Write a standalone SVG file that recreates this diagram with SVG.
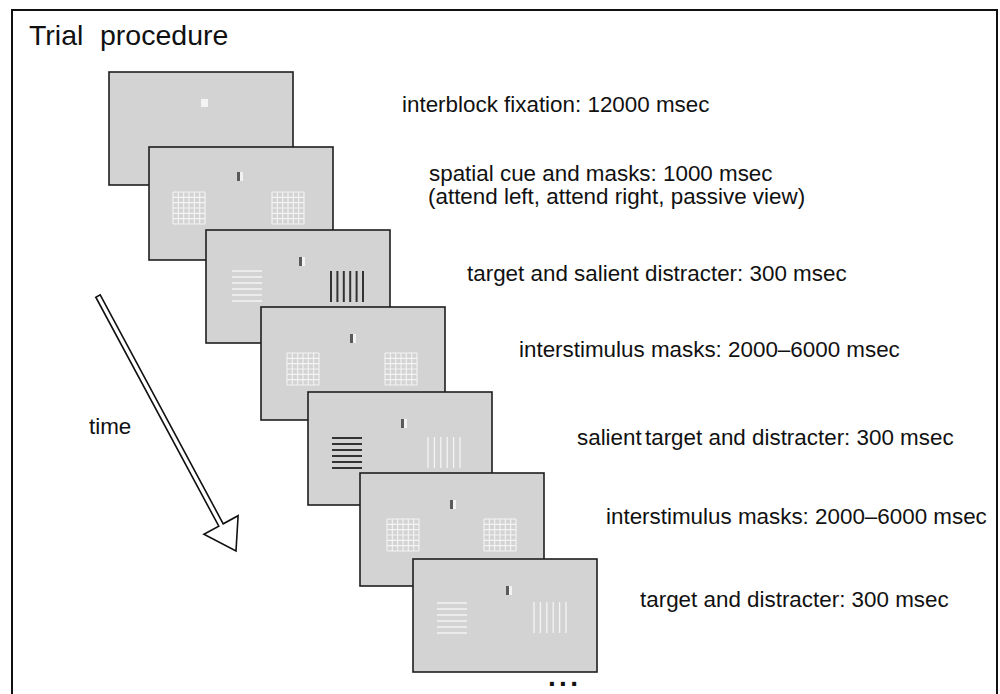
<svg xmlns="http://www.w3.org/2000/svg" xmlns:xlink="http://www.w3.org/1999/xlink" width="1000" height="694" viewBox="0 0 1000 694">
<style>
.frame{fill:#d3d3d3;stroke:#1e1e1e;stroke-width:1.6}
.lbl{font-family:"Liberation Sans",Arial,Helvetica,sans-serif;font-size:22.4px;fill:#111}
.title{font-family:"Liberation Sans",Arial,Helvetica,sans-serif;font-size:28.5px;fill:#111}
.wline{stroke:#f4f4f4;stroke-width:1.3;fill:none}
.dline{stroke:#333;stroke-width:2;fill:none}
.grid{stroke:#f4f4f4;stroke-width:1.1;fill:none}
.cueD{fill:#5a5a5a}
.cueW{fill:#f2f2f2}
</style>
<defs>
<path id="gridp" d="M0,0v32M5.33,0v32M10.67,0v32M16,0v32M21.33,0v32M26.67,0v32M32,0v32M0,0h32M0,5.33h32M0,10.67h32M0,16h32M0,21.33h32M0,26.67h32M0,32h32"/>
<path id="hl" d="M0,0h30M0,6h30M0,12h30M0,18h30M0,24h30M0,30h30"/>
<path id="vl" d="M0,0v31M6.4,0v31M12.8,0v31M19.2,0v31M25.6,0v31M32,0v31"/>
</defs>
<rect x="0" y="0" width="1000" height="694" fill="#fff"/>
<path d="M12,694V10H997V694" fill="none" stroke="#111" stroke-width="2"/>
<text class="title" x="29" y="45">Trial</text>
<text class="title" x="100" y="45">procedure</text>

<g id="frame1">
<rect class="frame" x="109" y="72" width="184" height="113"/>
<rect x="201" y="99" width="7" height="8" fill="#f4f4f4"/>
<text class="lbl" x="402" y="112">interblock fixation: 12000 msec</text>
</g>

<g id="frame2">
<rect class="frame" x="149" y="147" width="184" height="113"/>
<rect class="cueD" x="237" y="172" width="3" height="9"/>
<rect class="cueW" x="240" y="172" width="3" height="9"/>
<use href="#gridp" xlink:href="#gridp" class="grid" x="173" y="192"/>
<use href="#gridp" xlink:href="#gridp" class="grid" x="272" y="192"/>
<text class="lbl" x="429" y="181">spatial cue and masks: 1000 msec</text>
<text class="lbl" x="428" y="204">(attend left, attend right, passive view)</text>
</g>

<g id="frame3">
<rect class="frame" x="206" y="230" width="184" height="113"/>
<rect class="cueD" x="299" y="257" width="3" height="9"/>
<rect class="cueW" x="302" y="257" width="3" height="9"/>
<use href="#hl" xlink:href="#hl" class="wline" x="232" y="271"/>
<use href="#vl" xlink:href="#vl" class="dline" x="331" y="271"/>
<text class="lbl" x="467" y="281">target and salient distracter: 300 msec</text>
</g>

<g id="frame4">
<rect class="frame" x="261" y="307" width="184" height="113"/>
<rect class="cueD" x="350" y="334" width="3" height="9"/>
<rect class="cueW" x="353" y="334" width="3" height="9"/>
<use href="#gridp" xlink:href="#gridp" class="grid" x="287" y="353"/>
<use href="#gridp" xlink:href="#gridp" class="grid" x="385" y="353"/>
<text class="lbl" x="519" y="357">interstimulus masks: 2000–6000 msec</text>
</g>

<g id="frame5">
<rect class="frame" x="308" y="392" width="184" height="113"/>
<rect class="cueD" x="401" y="419" width="3" height="9"/>
<rect class="cueW" x="404" y="419" width="3" height="9"/>
<use href="#hl" xlink:href="#hl" class="dline" x="332" y="438" style="stroke-width:1.8"/>
<use href="#vl" xlink:href="#vl" class="wline" x="428" y="437"/>
<text class="lbl" x="577" y="445">salient<tspan dx="-3"> target and distracter: 300 msec</tspan></text>
</g>

<g id="frame6">
<rect class="frame" x="360" y="473" width="184" height="113"/>
<rect class="cueD" x="450" y="500" width="3" height="9"/>
<rect class="cueW" x="453" y="500" width="3" height="9"/>
<use href="#gridp" xlink:href="#gridp" class="grid" x="387" y="519"/>
<use href="#gridp" xlink:href="#gridp" class="grid" x="484" y="519"/>
<text class="lbl" x="606" y="524">interstimulus masks: 2000–6000 msec</text>
</g>

<g id="frame7">
<rect class="frame" x="413" y="559" width="184" height="113"/>
<rect class="cueD" x="506" y="586" width="3" height="9"/>
<rect class="cueW" x="509" y="586" width="3" height="9"/>
<use href="#hl" xlink:href="#hl" class="wline" x="437" y="603"/>
<use href="#vl" xlink:href="#vl" class="wline" x="534" y="602"/>
<text class="lbl" x="640" y="607">target and distracter: 300 msec</text>
</g>

<g id="time-arrow">
<polygon points="100.2,294.8 223.2,523.8 238.1,515.7 236,551 203.9,534.3 218.8,526.2 95.8,297.2" fill="#fff" stroke="#111" stroke-width="1.6" stroke-linejoin="miter"/>
<text class="lbl" x="89" y="434">time</text>
</g>

<text x="548" y="686" font-family="'Liberation Sans',Arial,sans-serif" font-weight="bold" font-size="28" letter-spacing="3.3" fill="#111">...</text>
</svg>
